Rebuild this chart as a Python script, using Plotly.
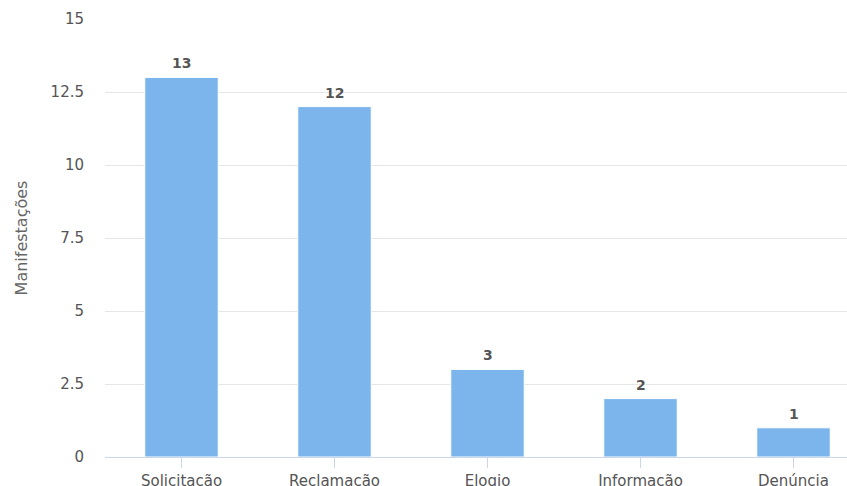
import plotly.graph_objects as go

categories = ["Solicitação", "Reclamação", "Elogio", "Informação", "Denúncia"]
values = [13, 12, 3, 2, 1]
y_ticks = [0, 2.5, 5, 7.5, 10, 12.5, 15]
y_tick_labels = ["0", "2.5", "5", "7.5", "10", "12.5", "15"]

FONT = "DejaVu Sans"
xs = list(range(len(categories)))

fig = go.Figure()
fig.add_trace(go.Bar(
    x=xs, y=values, width=0.48,
    marker=dict(color="#7cb5ec", line=dict(color="#ffffff", width=1)),
    hoverinfo="skip",
))

for xi, v in zip(xs, values):
    fig.add_annotation(x=xi, y=v, text=f"<b>{v}</b>", showarrow=False,
                       yanchor="bottom", yshift=4,
                       font=dict(family=FONT, size=14, color="#555555"))

fig.update_layout(
    width=847, height=486,
    margin=dict(l=105, r=0, t=19, b=29),
    paper_bgcolor="white", plot_bgcolor="white",
    showlegend=False,
    font=dict(family=FONT, size=15, color="#666666"),
)
fig.update_xaxes(
    range=[-0.5, -0.5 + 742 / 153],
    tickmode="array", tickvals=xs, ticktext=categories,
    tickson="boundaries", ticks="outside", ticklen=10, tickcolor="#ccd6eb",
    showline=True, linecolor="#ccd6eb", linewidth=1,
    showgrid=False, zeroline=False, automargin=False,
    tickfont=dict(family=FONT, size=15, color="#555555"),
    ticklabelstandoff=0,
)
fig.update_yaxes(
    range=[0, 15],
    tickmode="array", tickvals=y_ticks, ticktext=y_tick_labels,
    showgrid=True, gridcolor="#e6e6e6", gridwidth=1,
    zeroline=False, showline=False, automargin=False,
    tickfont=dict(family=FONT, size=15, color="#555555"),
    ticklabelstandoff=20,
    title=dict(text="Manifestações", font=dict(family=FONT, size=16, color="#666666"), standoff=18),
)

fig.write_html("out.html")
